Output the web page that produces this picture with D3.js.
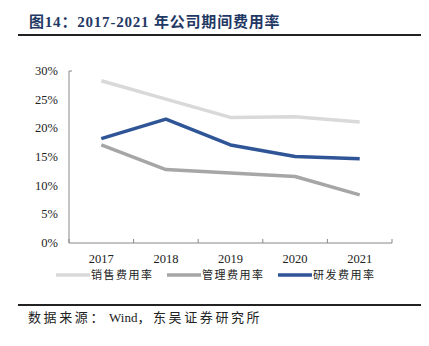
<!DOCTYPE html>
<html>
<head>
<meta charset="utf-8">
<script src="https://cdn.jsdelivr.net/npm/d3@7"></script>
<style>
  body { margin: 0; background: #fff; }
</style>
</head>
<body>
<div id="viz"></div>
<script>
var years = ["2017", "2018", "2019", "2020", "2021"];
var sales = [28.3, 25.1, 21.9, 22.0, 21.1];     // 销售费用率
var admin = [17.1, 12.8, 12.2, 11.6, 8.4];      // 管理费用率
var rnd = [18.2, 21.6, 17.1, 15.1, 14.7];       // 研发费用率
var yTicks = [0, 5, 10, 15, 20, 25, 30];
var seriesNames = ["销售费用率", "管理费用率", "研发费用率"];
var colors = ["#d9d9d9", "#a6a6a6", "#2f5597"];

var W = 429, H = 346;
var svg = d3.select("#viz").append("svg")
    .attr("width", W)
    .attr("height", H);

// title + rules
svg.append("text")
    .attr("x", 29).attr("y", 27)
    .attr("font-family", "'Liberation Serif', 'Noto Sans CJK SC', serif")
    .attr("font-weight", "bold")
    .attr("font-size", 15)
    .attr("letter-spacing", 0.8)
    .attr("fill", "#1f3864")
    .text("图14：2017-2021 年公司期间费用率");

svg.append("line")
    .attr("x1", 18).attr("x2", 421).attr("y1", 35).attr("y2", 35)
    .attr("stroke", "#222").attr("stroke-width", 2);

svg.append("line")
    .attr("x1", 18).attr("x2", 421).attr("y1", 305).attr("y2", 305)
    .attr("stroke", "#222").attr("stroke-width", 2);

var src = svg.append("text")
    .attr("x", 28).attr("y", 322)
    .attr("font-family", "'Liberation Serif', 'Noto Sans CJK SC', serif")
    .attr("font-size", 13)
    .attr("fill", "#222");
src.append("tspan").attr("letter-spacing", 2.6).text("数据来源：");
src.append("tspan").attr("dx", 3).text("Wind");
src.append("tspan").attr("letter-spacing", 2.6).text("，东吴证券研究所");

// plot
var x = d3.scaleBand().domain(years).range([69, 392]);
var y = d3.scaleLinear().domain([0, 30]).range([243, 71]);

var g = svg.append("g");

// axes
g.append("line")
    .attr("x1", 69).attr("x2", 69).attr("y1", y(30)).attr("y2", y(0))
    .attr("stroke", "#888");
g.append("line")
    .attr("x1", 69).attr("x2", 72).attr("y1", y(30)).attr("y2", y(30))
    .attr("stroke", "#888");
g.append("line")
    .attr("x1", 69).attr("x2", 392).attr("y1", y(0)).attr("y2", y(0))
    .attr("stroke", "#888");

var tickXs = years.map(function(d) { return x(d); }).concat([x(years[4]) + x.bandwidth()]);
g.selectAll(".xt").data(tickXs).enter().append("line")
    .attr("x1", function(d) { return d; })
    .attr("x2", function(d) { return d; })
    .attr("y1", y(0)).attr("y2", y(0) - 4)
    .attr("stroke", "#888");

g.selectAll(".yl").data(yTicks).enter().append("text")
    .attr("x", 58)
    .attr("y", function(d) { return y(d) + 4; })
    .attr("text-anchor", "end")
    .attr("font-family", "'Liberation Serif', serif")
    .attr("font-size", 12.5)
    .attr("fill", "#222")
    .text(function(d) { return d + "%"; });

g.selectAll(".xl").data(years).enter().append("text")
    .attr("x", function(d) { return x(d) + x.bandwidth() / 2; })
    .attr("y", 263)
    .attr("text-anchor", "middle")
    .attr("font-family", "'Liberation Serif', serif")
    .attr("font-size", 12.5)
    .attr("fill", "#222")
    .text(function(d) { return d; });

var line = d3.line()
    .x(function(d, i) { return x(years[i]) + x.bandwidth() / 2; })
    .y(function(d) { return y(d); });

[sales, admin, rnd].forEach(function(s, i) {
    g.append("path")
        .datum(s)
        .attr("d", line)
        .attr("fill", "none")
        .attr("stroke", colors[i])
        .attr("stroke-width", 3.5)
        .attr("stroke-linejoin", "round");
});

// legend
var legX = [56, 167, 278];
var lg = svg.selectAll(".leg").data(seriesNames).enter().append("g")
    .attr("transform", function(d, i) { return "translate(" + legX[i] + ",275)"; });
lg.append("line")
    .attr("x1", 0).attr("x2", 34).attr("y1", 0).attr("y2", 0)
    .attr("stroke", function(d, i) { return colors[i]; })
    .attr("stroke-width", 3.5);
lg.append("text")
    .attr("x", 35).attr("y", 4)
    .attr("font-family", "'Noto Sans CJK SC', sans-serif")
    .attr("font-size", 11)
    .attr("letter-spacing", 1.5)
    .attr("fill", "#222")
    .text(function(d) { return d; });
</script>
</body>
</html>
